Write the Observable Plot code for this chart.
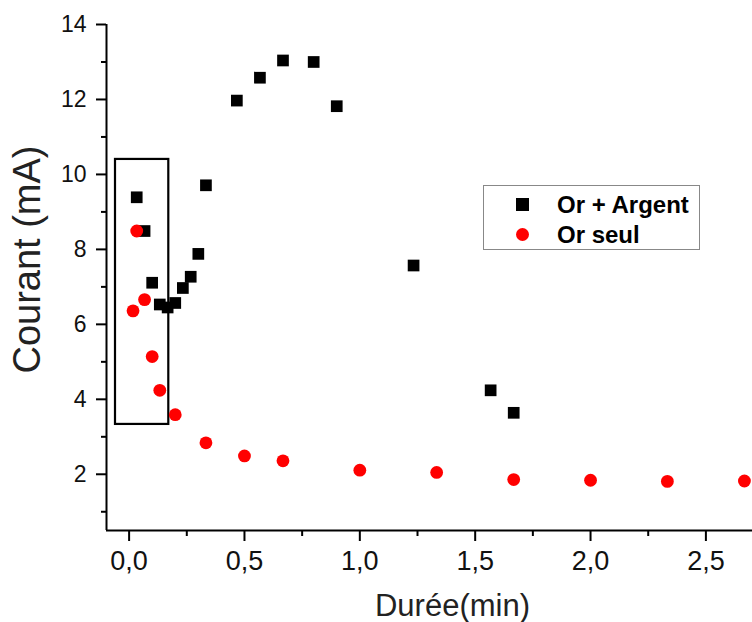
<!DOCTYPE html>
<html>
<head>
<meta charset="utf-8">
<script src="https://cdn.jsdelivr.net/npm/d3@7"></script>
<script src="https://cdn.jsdelivr.net/npm/@observablehq/plot@0.6"></script>
<style>
  html, body { margin: 0; padding: 0; background: #fff; }
  #wrap { position: relative; width: 752px; height: 622px; overflow: hidden; font-family: "Liberation Sans", Arial, sans-serif; }
  #legend { position: absolute; left: 483px; top: 185px; width: 217px; height: 65px; border: 1.5px solid #888; box-sizing: border-box; background: #fff; }
  .item { position: absolute; left: 73px; font-weight: bold; font-size: 24px; color: #000; line-height: 1; }
  .sw { position: absolute; }
</style>
</head>
<body>
<div id="wrap"></div>
<script>
// Data
const seriesNames = ["Or + Argent", "Or seul"];
const orArgentX = [0.033, 0.067, 0.1, 0.133, 0.167, 0.2, 0.233, 0.267, 0.3, 0.333, 0.467, 0.567, 0.667, 0.8, 0.9, 1.233, 1.567, 1.667];
const orArgentY = [9.39, 8.49, 7.11, 6.53, 6.45, 6.57, 6.97, 7.27, 7.88, 9.71, 11.97, 12.58, 13.04, 13.0, 11.82, 7.57, 4.24, 3.64];
const orSeulX = [0.017, 0.033, 0.067, 0.1, 0.133, 0.2, 0.333, 0.5, 0.667, 1.0, 1.333, 1.667, 2.0, 2.333, 2.667];
const orSeulY = [6.36, 8.49, 6.66, 5.14, 4.24, 3.59, 2.84, 2.49, 2.36, 2.11, 2.05, 1.86, 1.84, 1.81, 1.82];
const xMajorTicks = [0, 0.5, 1.0, 1.5, 2.0, 2.5];
const xMinorTicks = [0.25, 0.75, 1.25, 1.75, 2.25];
const yMajorTicks = [2, 4, 6, 8, 10, 12, 14];
const yMinorTicks = [1, 3, 5, 7, 9, 11, 13];
const boxX = [-0.059, 0.172];
const boxY = [3.33, 10.4];
const xLabel = "Durée(min)";
const yLabel = "Courant (mA)";

const argent = orArgentX.map((x, i) => ({x, y: orArgentY[i]}));
const seul = orSeulX.map((x, i) => ({x, y: orSeulY[i]}));
const box = [{x1: boxX[0], x2: boxX[1], y1: boxY[0], y2: boxY[1]}];
const fmt = d => d.toFixed(1).replace(".", ",");
const xDom = [-0.098, 2.702];
const yDom = [0.5, 14];

const chart = Plot.plot({
  width: 752,
  height: 622,
  marginLeft: 106,
  marginRight: 0,
  marginTop: 24,
  marginBottom: 92,
  x: {domain: xDom},
  y: {domain: yDom},
  style: {fontFamily: "Liberation Sans, Arial, sans-serif", color: "#000", background: "#fff"},
  marks: [
    Plot.axisX({ticks: xMajorTicks, tickSize: 11, text: null, strokeWidth: 2, label: null}),
    Plot.axisX({ticks: xMinorTicks, tickSize: 6, text: null, strokeWidth: 2, label: null}),
    Plot.axisY({ticks: yMajorTicks, tickSize: 10, text: null, strokeWidth: 2, label: null}),
    Plot.axisY({ticks: yMinorTicks, tickSize: 5, text: null, strokeWidth: 2, label: null}),
    Plot.text(xMajorTicks, {x: d => d, text: fmt, frameAnchor: "bottom", dy: 31, fontSize: 27, fill: "#111", lineAnchor: "middle", textAnchor: "middle"}),
    Plot.text(yMajorTicks, {y: d => d, text: d => String(d), frameAnchor: "left", dx: -20, fontSize: 23, fill: "#111", lineAnchor: "middle", textAnchor: "end"}),
    Plot.ruleX([xDom[0]], {stroke: "#000", strokeWidth: 2}),
    Plot.ruleY([yDom[0]], {stroke: "#000", strokeWidth: 2}),
    Plot.rect(box, {x1: "x1", x2: "x2", y1: "y1", y2: "y2", fill: "none", stroke: "#000", strokeWidth: 2.2}),
    Plot.dot(argent, {x: "x", y: "y", symbol: "square", r: 6.6, fill: "#000", stroke: "none"}),
    Plot.dot(seul, {x: "x", y: "y", symbol: "circle", r: 6.4, fill: "#f00", stroke: "none"}),
    Plot.text([xLabel], {frameAnchor: "bottom", dx: 23, dy: 76, fontSize: 31, fill: "#222", lineAnchor: "middle", textAnchor: "middle"}),
    Plot.text([yLabel], {frameAnchor: "left", dx: -79, dy: -18, rotate: -90, fontSize: 38, fill: "#222", lineAnchor: "middle", textAnchor: "middle"})
  ]
});

const wrap = document.getElementById("wrap");
wrap.appendChild(chart);

const legend = document.createElement("div");
legend.id = "legend";
legend.innerHTML =
  `<div class="sw" style="left:32px;top:12px;width:13px;height:13px;background:#000"></div>
   <div class="item" style="top:7px">${seriesNames[0]}</div>
   <div class="sw" style="left:32px;top:42px;width:13px;height:13px;background:#f00;border-radius:50%"></div>
   <div class="item" style="top:37px">${seriesNames[1]}</div>`;
wrap.appendChild(legend);
</script>
</body>
</html>
